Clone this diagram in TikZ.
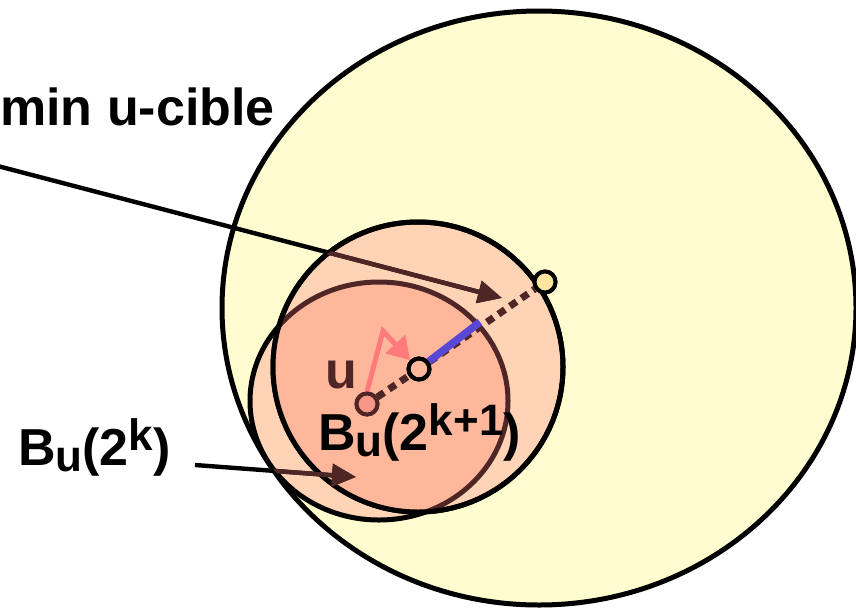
\documentclass[tikz,border=0pt]{standalone}
\usepackage{fontspec}
\setmainfont{Liberation Sans}
\usetikzlibrary{arrows.meta}
\definecolor{bgyellow}{RGB}{255,252,208}
\definecolor{peach}{RGB}{255,211,181}
\definecolor{salmon}{RGB}{255,183,156}
\definecolor{dbrown}{RGB}{79,38,38}
\definecolor{pinkline}{RGB}{255,122,122}
\definecolor{bluel}{RGB}{88,72,212}
\definecolor{goldc}{RGB}{255,230,160}
\definecolor{upink}{RGB}{248,150,135}
\newcommand{\mysubu}{\raisebox{-6pt}{\fontsize{44}{44}\selectfont u}}
\newcommand{\mysup}[1]{\raisebox{15pt}{\fontsize{44}{44}\selectfont #1}}
\newcommand{\Lpath}{(379,401) ellipse [x radius=129pt, y radius=119pt]}
\newcommand{\Mpath}{(418,367) circle [radius=145pt]}
\begin{document}
\begin{tikzpicture}[x=1pt,y=-1pt,
  outline/.style={line width=5pt},
  lbl/.style={font=\bfseries\fontsize{52}{52}\selectfont, inner sep=0pt, anchor=base west},
  pointer/.style={line width=4.4pt, -{Triangle[length=24pt,width=22pt]}},
  dotline/.style={dbrown, line width=7pt, dash pattern=on 8pt off 6pt},
  smallc/.style={circle, inner sep=0pt, minimum size=21pt, line width=4pt}
]
\useasboundingbox (0,0) rectangle (856,608);
\clip (0,0) rectangle (856,608);
% big ellipse
\draw[outline, fill=bgyellow] (539,308) ellipse [x radius=317pt, y radius=297pt];
% ball L and ball M
\draw[outline, fill=peach] \Lpath;
\draw[outline, fill=peach] \Mpath;
\begin{scope}
  \clip \Mpath;
  \fill[salmon] \Lpath;
  \draw[outline, dbrown] \Lpath;
\end{scope}
\draw[outline] \Mpath;
% coordinates
\coordinate (a1s) at (-10,164);
\coordinate (a1e) at (502,298);
\coordinate (a2s) at (195,465);
\coordinate (a2e) at (356,477);
\coordinate (pinkbend) at (383,331);
\coordinate (blueend) at (480,322);
% small circles
\node[smallc, draw=dbrown, fill=upink] (ucirc) at (367,404) {};
\node[smallc, draw=black] (bcirc) at (419,369) {};
\node[smallc, draw=black, fill=goldc] (ycirc) at (545,282) {};
% arrows
\draw[pointer] (a1s) -- (a1e);
\begin{scope}
  \clip \Mpath;
  \draw[pointer, dbrown] (a1s) -- (a1e);
\end{scope}
\draw[pointer] (a2s) -- (a2e);
\begin{scope}
  \clip \Lpath;
  \draw[pointer, dbrown] (a2s) -- (a2e);
\end{scope}
% dotted path and blue segment
\draw[dotline] (ucirc) -- (bcirc);
\draw[dotline] (bcirc) -- (ycirc);
\draw[bluel, line width=7.5pt] (bcirc) -- (blueend);
% pink path
\draw[pinkline, line width=5pt, -{Triangle[length=22pt,width=26pt]}] (ucirc.north) -- (pinkbend) -- (bcirc.north west);
% redraw small circles on top
\node[smallc, draw=dbrown, fill=upink] at (ucirc) {};
\node[smallc, draw=black] at (bcirc) {};
\node[smallc, draw=black, fill=goldc] at (ycirc) {};
% labels
\node[lbl] (tmin) at (0,125) {min u-cible};
\node[lbl] (tk) at (18,465) {B\mysubu(2\mysup{k})};
\node[lbl] (tk1) at (318,450) {B\mysubu(2\mysup{k+1})};
\node[lbl, text=dbrown] (tu) at (325,388) {u};
\end{tikzpicture}
\end{document}
